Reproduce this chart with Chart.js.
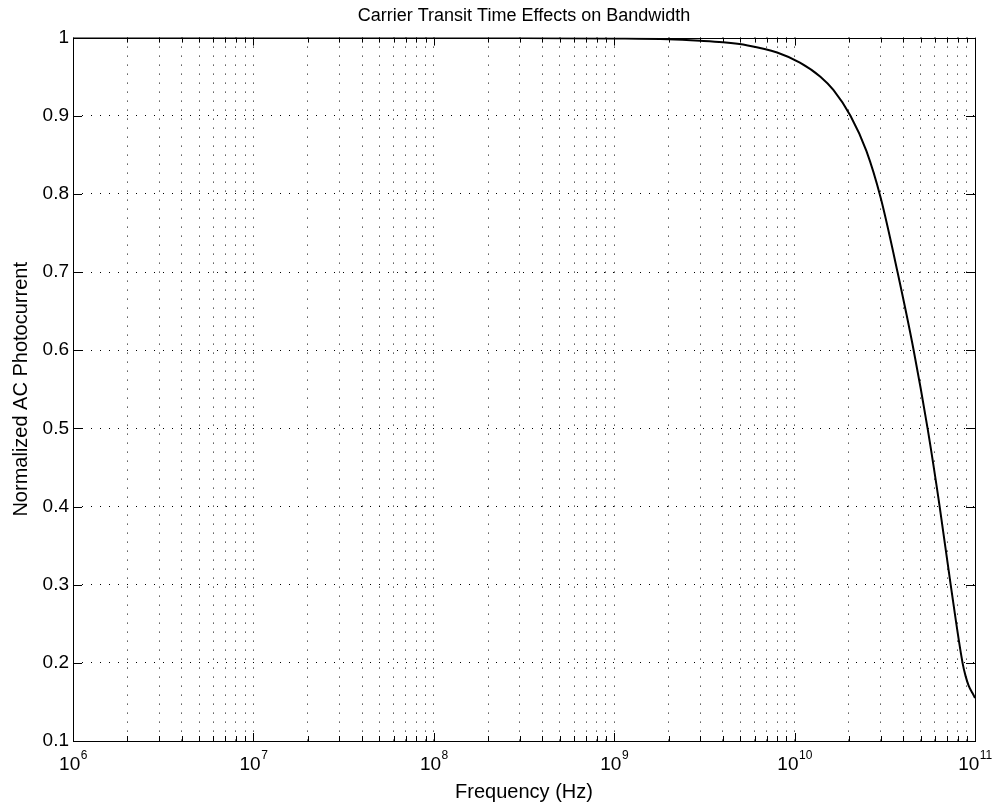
<!DOCTYPE html>
<html>
<head>
<meta charset="utf-8">
<script src="https://cdn.jsdelivr.net/npm/chart.js@4.4.0/dist/chart.umd.min.js"></script>
<style>
    html, body { margin: 0; padding: 0; background: #fff; }
    #wrap { width: 994px; height: 806px; }
</style>
</head>
<body>
<div id="wrap"><canvas id="bwChart" width="994" height="806"></canvas></div>
<script>
// frequency points (Hz) and normalized photocurrent
const freqHz = [1e6, 1e7, 1e8, 1e9, 2e9, 3e9, 4e9, 5.5e9, 8e9, 1.07e10, 1.39e10, 1.64e10, 2.04e10,
    2.5e10, 3.0e10, 3.72e10, 4.57e10, 5.46e10, 6.37e10, 7.33e10, 8.53e10, 8.87e10, 9.22e10, 9.7e10, 1e11];
const photocurrent = [1.0, 1.0, 1.0, 0.999, 0.998, 0.996, 0.994, 0.99, 0.981, 0.968, 0.95, 0.933, 0.9,
    0.855, 0.795, 0.7, 0.6, 0.5, 0.4, 0.3, 0.2, 0.183, 0.171, 0.161, 0.155];

// x tick labels: base 10 with the exponent raised
const decades = [6, 7, 8, 9, 10, 11];
const xTickBase = "10";
const xTickExponents = ["6", "7", "8", "9", "10", "11"];

const fontFamily = "'Liberation Sans', Arial, Helvetica, sans-serif";

// MATLAB style: box around the plot, ticks pointing inward, 10^n labels
const boxTicks = {
    id: "boxTicks",
    afterDraw(chart) {
        const { ctx, chartArea: a, scales } = chart;
        ctx.save();
        ctx.strokeStyle = "#000";
        ctx.lineWidth = 1;
        ctx.setLineDash([]);
        ctx.strokeRect(Math.round(a.left) + 0.5, Math.round(a.top) + 0.5,
            Math.round(a.right - a.left), Math.round(a.bottom - a.top));
        ctx.beginPath();
        scales.x.ticks.forEach(t => {
            const e = Math.log10(t.value);
            const len = Math.abs(e - Math.round(e)) < 1e-9 ? 8 : 5;
            const px = Math.round(scales.x.getPixelForValue(t.value)) + 0.5;
            ctx.moveTo(px, a.bottom); ctx.lineTo(px, a.bottom - len);
            ctx.moveTo(px, a.top); ctx.lineTo(px, a.top + len);
        });
        scales.y.ticks.forEach(t => {
            const py = Math.round(scales.y.getPixelForValue(t.value)) + 0.5;
            ctx.moveTo(a.left, py); ctx.lineTo(a.left + 9, py);
            ctx.moveTo(a.right, py); ctx.lineTo(a.right - 9, py);
        });
        ctx.stroke();

        ctx.fillStyle = "#000";
        ctx.textBaseline = "alphabetic";
        ctx.textAlign = "left";
        decades.forEach((d, i) => {
            const px = scales.x.getPixelForValue(Math.pow(10, d));
            ctx.font = "19px " + fontFamily;
            const wBase = ctx.measureText(xTickBase).width;
            ctx.font = "12px " + fontFamily;
            const wExp = ctx.measureText(xTickExponents[i]).width;
            const x0 = px - (wBase + wExp) / 2;
            ctx.font = "19px " + fontFamily;
            ctx.fillText(xTickBase, x0, a.bottom + 29);
            ctx.font = "12px " + fontFamily;
            ctx.fillText(xTickExponents[i], x0 + wBase + 0.5, a.bottom + 18);
        });
        ctx.restore();
    }
};

const ctx = document.getElementById("bwChart").getContext("2d");

new Chart(ctx, {
    type: "scatter",
    data: {
        datasets: [{
            data: freqHz.map((f, i) => ({ x: f, y: photocurrent[i] })),
            showLine: true,
            borderColor: "#000",
            borderWidth: 2,
            pointRadius: 0,
            cubicInterpolationMode: "monotone",
        }],
    },
    options: {
        responsive: false,
        animation: false,
        layout: { padding: { left: 0, right: 19, top: 0, bottom: 0 } },
        plugins: {
            legend: { display: false },
            tooltip: { enabled: false },
            title: {
                display: true,
                fullSize: false,
                text: "Carrier Transit Time Effects on Bandwidth",
                color: "#000",
                font: { family: fontFamily, size: 18, weight: "normal" },
                padding: { top: 5, bottom: 11 },
            },
        },
        scales: {
            x: {
                type: "logarithmic",
                min: 1e6,
                max: 1e11,
                afterBuildTicks(scale) {
                    const ticks = [];
                    decades.forEach(d => {
                        for (let m = 1; m <= 9; m++) {
                            if (d === 11 && m > 1) break;
                            ticks.push({ value: m * Math.pow(10, d) });
                        }
                    });
                    scale.ticks = ticks;
                },
                afterFit(scale) {
                    scale.height = 65;
                    scale.paddingLeft = 0;
                    scale.paddingRight = 0;
                },
                ticks: {
                    autoSkip: false,
                    maxRotation: 0,
                    callback: () => "",
                },
                grid: {
                    drawTicks: false,
                    color: ctx => (ctx.index === 0 || ctx.tick && ctx.tick.value >= 1e11) ? "rgba(0,0,0,0)" : "#000",
                    lineWidth: 1,
                },
                border: { display: false, dash: [1, 8] },
                title: {
                    display: true,
                    text: "Frequency (Hz)",
                    color: "#000",
                    font: { family: fontFamily, size: 20 },
                    padding: { top: 0, bottom: 2 },
                },
            },
            y: {
                min: 0.1,
                max: 1,
                afterFit(scale) { scale.width = 73; },
                ticks: {
                    stepSize: 0.1,
                    padding: 4,
                    color: "#000",
                    font: { family: fontFamily, size: 19 },
                    callback: v => String(Number(v.toFixed(1))),
                },
                grid: {
                    drawTicks: false,
                    color: ctx => (ctx.index === 0 || ctx.tick && ctx.tick.value >= 0.999) ? "rgba(0,0,0,0)" : "#000",
                    lineWidth: 1,
                },
                border: { display: false, dash: [1, 8] },
                title: {
                    display: true,
                    text: "Normalized AC Photocurrent",
                    color: "#000",
                    font: { family: fontFamily, size: 20 },
                    padding: { top: 9, bottom: 0 },
                },
            },
        },
    },
    plugins: [boxTicks],
});
</script>
</body>
</html>
